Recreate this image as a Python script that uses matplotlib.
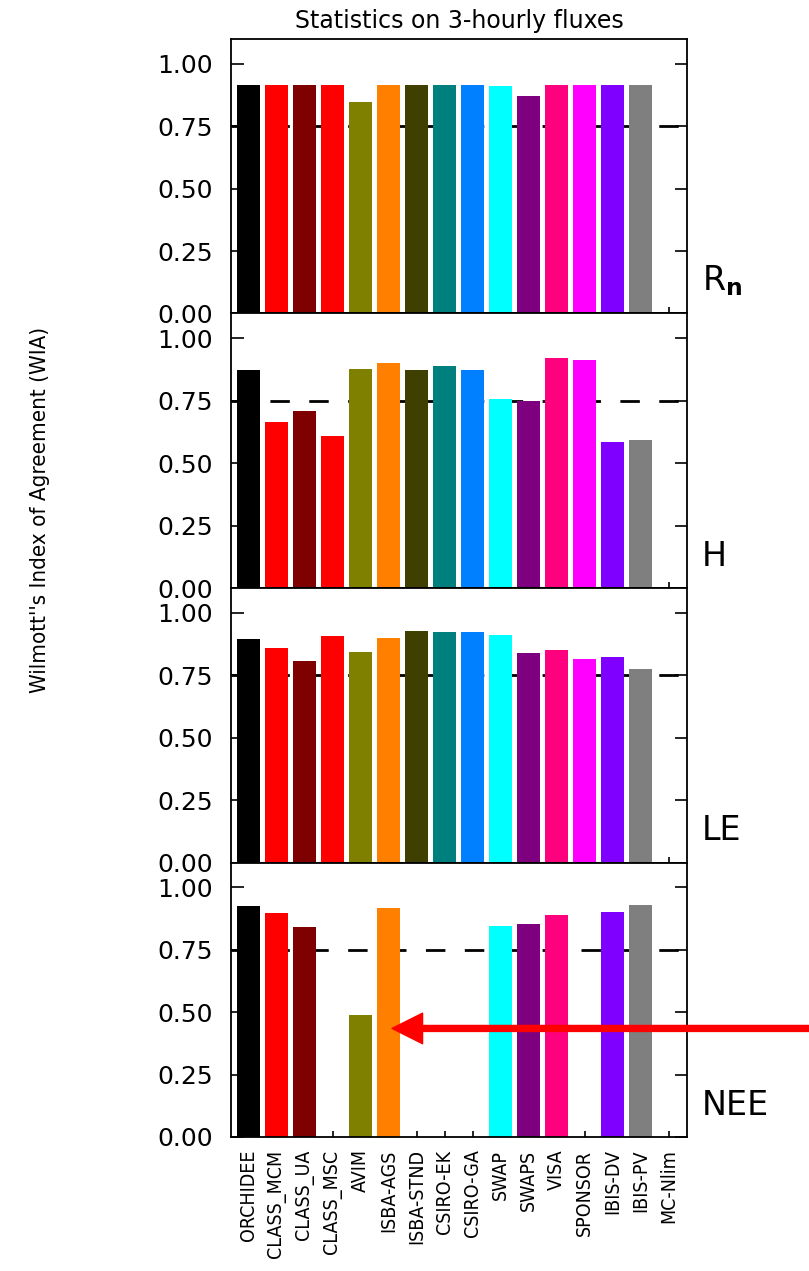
import numpy as np
import matplotlib
matplotlib.use('Agg')
import matplotlib.pyplot as plt

# model names (x axis) and bar colours
models = ['ORCHIDEE', 'CLASS_MCM', 'CLASS_UA', 'CLASS_MSC', 'AVIM', 'ISBA-AGS',
          'ISBA-STND', 'CSIRO-EK', 'CSIRO-GA', 'SWAP', 'SWAPS', 'VISA',
          'SPONSOR', 'IBIS-DV', 'IBIS-PV', 'MC-Nlim']
colors = ['#000000', '#ff0000', '#7f0000', '#ff0000', '#7f7f00', '#ff7f00',
          '#3f3f00', '#007f7f', '#007fff', '#00ffff', '#7f007f', '#ff007f',
          '#ff00ff', '#7f00ff', '#7f7f7f', '#ffffff']

# Willmott index of agreement per flux (nan = no value)
wia_rn = [0.915, 0.917, 0.917, 0.915, 0.848, 0.917, 0.917, 0.915, 0.915, 0.912,
          0.872, 0.915, 0.915, 0.915, 0.915, np.nan]
wia_h = [0.875, 0.664, 0.708, 0.610, 0.878, 0.903, 0.874, 0.890, 0.874, 0.758,
         0.751, 0.921, 0.914, 0.585, 0.592, np.nan]
wia_le = [0.896, 0.858, 0.808, 0.909, 0.844, 0.900, 0.929, 0.923, 0.924, 0.911,
          0.841, 0.850, 0.817, 0.824, 0.776, np.nan]
wia_nee = [0.924, 0.896, 0.842, np.nan, 0.488, 0.916, np.nan, np.nan, np.nan, 0.846,
           0.854, 0.890, np.nan, 0.901, 0.930, np.nan]

panels = [(wia_rn, r'R$_\mathbf{n}$'), (wia_h, 'H'), (wia_le, 'LE'), (wia_nee, 'NEE')]
yticks = [0.0, 0.25, 0.5, 0.75, 1.0]
threshold = 0.75

W, H = 809, 1271
fig, axes = plt.subplots(4, 1, figsize=(W / 100, H / 100), dpi=100, sharex=True)
fig.subplots_adjust(left=231 / W, right=687 / W, top=1 - 39 / H, bottom=1 - 1137 / H, hspace=0)

x = np.arange(len(models))
for ax, (vals, name) in zip(axes, panels):
    vals = np.array(vals, dtype=float)
    ok = ~np.isnan(vals)
    ax.bar(x[ok], vals[ok], width=0.82, color=[c for c, k in zip(colors, ok) if k], zorder=2)
    ax.axhline(threshold, color='black', lw=2, linestyle=(0, (7, 7)), zorder=1)
    ax.set_ylim(0, 1.1)
    ax.set_xlim(-0.625, 15.66)
    ax.set_yticks(yticks)
    ax.set_yticklabels(['%.2f' % v for v in yticks])
    ax.tick_params(axis='y', direction='in', length=9, width=1.2, left=True, right=True,
                   labelsize=18, pad=13)
    ax.tick_params(axis='x', direction='in', length=4, width=1.2, bottom=True, top=False)
    for s in ax.spines.values():
        s.set_linewidth(1.3)
    ax.text(1.033, 0.055, name, transform=ax.transAxes, fontsize=24, ha='left', va='bottom')

axes[-1].set_xticks(x)
axes[-1].set_xticklabels(models, rotation=90, fontsize=14, va='top', fontstretch='condensed')
axes[-1].tick_params(axis='x', pad=9)

# arrow pointing at ISBA-AGS in NEE panel
axes[-1].annotate('', xy=(5.125, 0.435), xycoords='data', xytext=(20.2, 0.435),
                  textcoords='data', annotation_clip=False,
                  arrowprops=dict(width=4.3, headwidth=22, headlength=22,
                                  color='#ff0000', shrink=0))

fig.text(459 / W, 1 - 21 / H, 'Statistics on 3-hourly fluxes', ha='center', va='center',
         fontsize=17)
fig.text(40 / W, 1 - 510 / H, "Wilmott''s Index of Agreement (WIA)", rotation=90,
         ha='center', va='center', fontsize=16, fontstretch='condensed')

fig.savefig('out.png', dpi=100)
